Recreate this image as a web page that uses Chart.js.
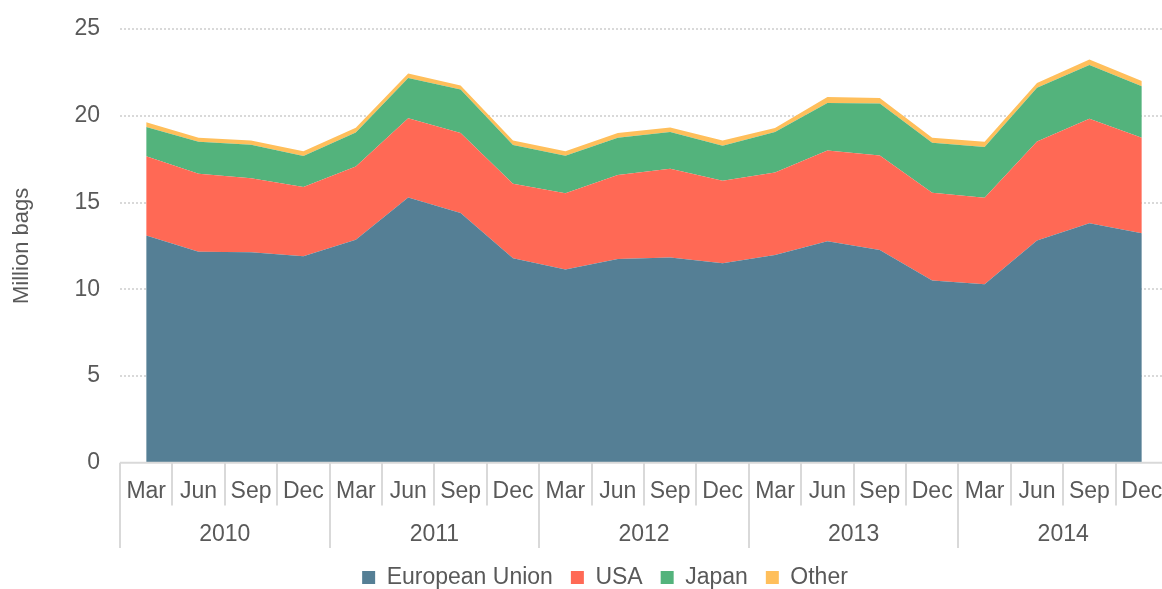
<!DOCTYPE html>
<html>
<head>
<meta charset="utf-8">
<script src="https://cdn.jsdelivr.net/npm/chart.js@4/dist/chart.umd.min.js"></script>
<style>
  html, body { margin: 0; padding: 0; background: #fff; overflow: hidden; }
  #wrap { position: relative; width: 1180px; height: 599px; }
</style>
</head>
<body>
<div id="wrap"><canvas id="chart"></canvas></div>
<script>
// quarters, 2010 - 2014
const months = ['Mar', 'Jun', 'Sep', 'Dec'];
const years = ['2010', '2011', '2012', '2013', '2014'];
const quarters = years.flatMap(() => months);

// million bags per quarter
const euValues = [13.10, 12.17, 12.14, 11.90, 12.85, 15.29, 14.39, 11.79, 11.14, 11.75, 11.83, 11.50, 11.98, 12.77, 12.27, 10.50, 10.29, 12.81, 13.81, 13.23];
const usaValues = [4.56, 4.49, 4.26, 3.99, 4.23, 4.56, 4.61, 4.29, 4.40, 4.83, 5.12, 4.75, 4.75, 5.23, 5.44, 5.06, 4.98, 5.71, 6.02, 5.50];
const japanValues = [1.69, 1.84, 1.93, 1.79, 1.96, 2.33, 2.52, 2.23, 2.16, 2.15, 2.11, 2.02, 2.33, 2.73, 2.99, 2.89, 2.93, 3.10, 3.10, 2.97];
const otherValues = [0.27, 0.23, 0.25, 0.27, 0.27, 0.25, 0.23, 0.27, 0.26, 0.27, 0.27, 0.31, 0.23, 0.35, 0.32, 0.28, 0.30, 0.27, 0.31, 0.30];

const textColor = '#595959';
const lineColor = '#d9d9d9';
const fontFamily = '"Liberation Sans", Arial, sans-serif';

function areaSet(label, data, color, fill) {
  return {
    label: label,
    data: data,
    backgroundColor: color,
    borderColor: color,
    borderWidth: 0,
    pointRadius: 0,
    tension: 0,
    fill: fill
  };
}

// vertical separators under the category axis (short for months, long for years)
const separators = {
  id: 'separators',
  afterDraw(chart) {
    const xs = chart.scales.x;
    const ys = chart.scales.x2;
    const ctx = chart.ctx;
    const step = xs.width / quarters.length;
    ctx.save();
    ctx.strokeStyle = lineColor;
    ctx.lineWidth = 2;
    for (let i = 0; i <= quarters.length; i++) {
      const x = Math.round(xs.left + i * step);
      const bottom = i % months.length === 0 ? ys.bottom : xs.bottom;
      ctx.beginPath();
      ctx.moveTo(x, xs.top);
      ctx.lineTo(x, bottom);
      ctx.stroke();
    }
    ctx.beginPath();
    ctx.moveTo(xs.left, xs.top);
    ctx.lineTo(xs.right, xs.top);
    ctx.stroke();
    ctx.restore();
  }
};

const axisTicks = {
  color: textColor,
  font: { family: fontFamily, size: 23 },
  autoSkip: false,
  maxRotation: 0,
  padding: 0
};

new Chart(document.getElementById('chart'), {
  type: 'line',
  data: {
    labels: quarters,
    datasets: [
      areaSet('European Union', euValues, '#557f95', 'origin'),
      areaSet('USA', usaValues, '#ff6955', '-1'),
      areaSet('Japan', japanValues, '#53b37c', '-1'),
      areaSet('Other', otherValues, '#ffbf5b', '-1')
    ]
  },
  options: {
    responsive: true,
    maintainAspectRatio: false,
    animation: false,
    layout: { padding: { left: 42, right: 12, top: 29, bottom: 0 } },
    plugins: {
      tooltip: { enabled: false },
      legend: {
        position: 'bottom',
        labels: {
          color: textColor,
          font: { family: fontFamily, size: 23 },
          boxWidth: 13,
          boxHeight: 13,
          padding: 18
        }
      }
    },
    scales: {
      x: {
        type: 'category',
        offset: true,
        grid: { display: false, drawTicks: true, tickLength: 15 },
        border: { display: false },
        ticks: axisTicks
      },
      x2: {
        type: 'category',
        position: 'bottom',
        labels: years,
        offset: true,
        grid: { display: false, drawTicks: true, tickLength: 15 },
        border: { display: false },
        ticks: axisTicks
      },
      y: {
        stacked: true,
        min: 0,
        max: 25,
        afterFit(scale) { scale.width = 78; },
        border: { display: false, dash: [2, 2] },
        grid: {
          color: ctx => ctx.tick.value === 0 ? 'rgba(0,0,0,0)' : lineColor,
          lineWidth: 2,
          drawTicks: true,
          tickLength: 20,
          tickColor: 'rgba(0,0,0,0)'
        },
        ticks: {
          stepSize: 5,
          color: textColor,
          font: { family: fontFamily, size: 23 },
          padding: 0
        },
        title: {
          display: true,
          text: 'Million bags',
          color: textColor,
          font: { family: fontFamily, size: 22 },
          padding: { top: -33, bottom: 0 }
        }
      }
    }
  },
  plugins: [separators]
});
</script>
</body>
</html>
